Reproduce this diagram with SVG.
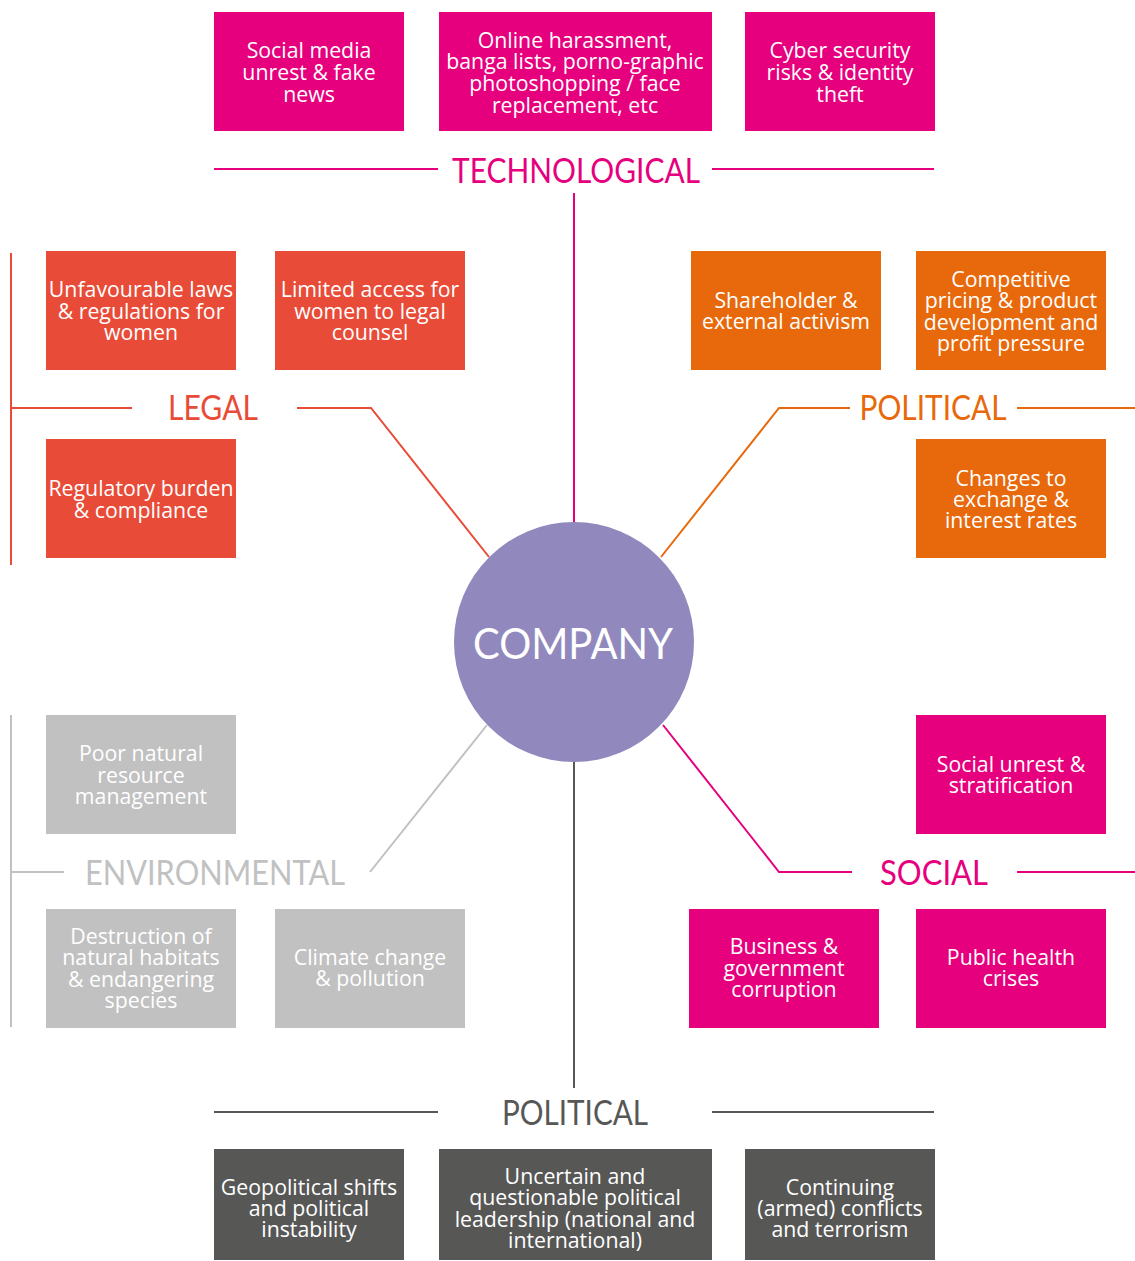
<svg xmlns="http://www.w3.org/2000/svg" width="1135" height="1261" viewBox="0 0 1135 1261">
<style>
.b{font-family:"Open Sans","Noto Sans",sans-serif;font-size:21.3px;fill:#fff;text-anchor:middle}
.h{font-family:Lato,"Liberation Sans",sans-serif;font-weight:400;font-size:35px;text-anchor:middle}
.pk{fill:#E6007E}.rd{fill:#E84B37}.or{fill:#E8690B}.gy{fill:#C1C1C1}.dk{fill:#575756}
.l{fill:none;stroke-width:2}
</style>
<rect width="1135" height="1261" fill="#fff"/>
<g id="connectors">
<path class="l" stroke="#E6007E" d="M214 169H438M712 169H934M574 193V522"/>
<path class="l" stroke="#E84B37" d="M11 253V565M11 408H132M297 408H371L489 557"/>
<path class="l" stroke="#E8690B" d="M1017 408H1135M850 408H779L661 557"/>
<path class="l" stroke="#C1C1C1" d="M11 715V1027M11 872H64M370 872L487 725"/>
<path class="l" stroke="#E6007E" d="M663 725L779 872H852M1017 872H1135"/>
<path class="l" stroke="#575756" d="M574 762V1088M214 1112H438M712 1112H934"/>
</g>
<g id="company"><circle cx="574" cy="642" r="120" fill="#9189BE"/><text class="h" x="573" y="659" style="font-size:43px;fill:#fff" textLength="200" lengthAdjust="spacingAndGlyphs">COMPANY</text></g>
<g id="tech-label"><text class="h pk" x="576" y="183" textLength="248" lengthAdjust="spacingAndGlyphs">TECHNOLOGICAL</text></g>
<g id="legal-label"><text class="h rd" x="213" y="420" textLength="90" lengthAdjust="spacingAndGlyphs">LEGAL</text></g>
<g id="political-label"><text class="h or" x="933" y="420" textLength="147" lengthAdjust="spacingAndGlyphs">POLITICAL</text></g>
<g id="env-label"><text class="h gy" x="215" y="885" textLength="260" lengthAdjust="spacingAndGlyphs">ENVIRONMENTAL</text></g>
<g id="social-label"><text class="h pk" x="934" y="885" textLength="108" lengthAdjust="spacingAndGlyphs">SOCIAL</text></g>
<g id="political2-label"><text class="h dk" x="575" y="1125" textLength="146" lengthAdjust="spacingAndGlyphs">POLITICAL</text></g>

<g id="t1"><rect class="pk" x="214" y="12" width="190" height="119"/><text class="b"><tspan x="309" y="58">Social media</tspan><tspan x="309" y="80">unrest &amp; fake</tspan><tspan x="309" y="102">news</tspan></text></g>
<g id="t2"><rect class="pk" x="439" y="12" width="273" height="119"/><text class="b"><tspan x="575" y="48">Online harassment,</tspan><tspan x="575" y="69">banga lists, porno-graphic</tspan><tspan x="575" y="91">photoshopping / face</tspan><tspan x="575" y="113">replacement, etc</tspan></text></g>
<g id="t3"><rect class="pk" x="745" y="12" width="190" height="119"/><text class="b"><tspan x="840" y="58">Cyber security</tspan><tspan x="840" y="80">risks &amp; identity</tspan><tspan x="840" y="102">theft</tspan></text></g>

<g id="l1"><rect class="rd" x="46" y="251" width="190" height="119"/><text class="b"><tspan x="141" y="297">Unfavourable laws</tspan><tspan x="141" y="319">&amp; regulations for</tspan><tspan x="141" y="340">women</tspan></text></g>
<g id="l2"><rect class="rd" x="275" y="251" width="190" height="119"/><text class="b"><tspan x="370" y="297">Limited access for</tspan><tspan x="370" y="319">women to legal</tspan><tspan x="370" y="340">counsel</tspan></text></g>
<g id="l3"><rect class="rd" x="46" y="439" width="190" height="119"/><text class="b"><tspan x="141" y="496">Regulatory burden</tspan><tspan x="141" y="518">&amp; compliance</tspan></text></g>

<g id="p1"><rect class="or" x="691" y="251" width="190" height="119"/><text class="b"><tspan x="786" y="308">Shareholder &amp;</tspan><tspan x="786" y="329">external activism</tspan></text></g>
<g id="p2"><rect class="or" x="916" y="251" width="190" height="119"/><text class="b"><tspan x="1011" y="287">Competitive</tspan><tspan x="1011" y="308">pricing &amp; product</tspan><tspan x="1011" y="330">development and</tspan><tspan x="1011" y="351">profit pressure</tspan></text></g>
<g id="p3"><rect class="or" x="916" y="439" width="190" height="119"/><text class="b"><tspan x="1011" y="486">Changes to</tspan><tspan x="1011" y="507">exchange &amp;</tspan><tspan x="1011" y="528">interest rates</tspan></text></g>

<g id="e1"><rect class="gy" x="46" y="715" width="190" height="119"/><text class="b"><tspan x="141" y="761">Poor natural</tspan><tspan x="141" y="783">resource</tspan><tspan x="141" y="804">management</tspan></text></g>
<g id="e2"><rect class="gy" x="46" y="909" width="190" height="119"/><text class="b"><tspan x="141" y="944">Destruction of</tspan><tspan x="141" y="965">natural habitats</tspan><tspan x="141" y="987">&amp; endangering</tspan><tspan x="141" y="1008">species</tspan></text></g>
<g id="e3"><rect class="gy" x="275" y="909" width="190" height="119"/><text class="b"><tspan x="370" y="965">Climate change</tspan><tspan x="370" y="986">&amp; pollution</tspan></text></g>

<g id="s1"><rect class="pk" x="916" y="715" width="190" height="119"/><text class="b"><tspan x="1011" y="772">Social unrest &amp;</tspan><tspan x="1011" y="793">stratification</tspan></text></g>
<g id="s2"><rect class="pk" x="689" y="909" width="190" height="119"/><text class="b"><tspan x="784" y="954">Business &amp;</tspan><tspan x="784" y="976">government</tspan><tspan x="784" y="997">corruption</tspan></text></g>
<g id="s3"><rect class="pk" x="916" y="909" width="190" height="119"/><text class="b"><tspan x="1011" y="965">Public health</tspan><tspan x="1011" y="986">crises</tspan></text></g>

<g id="g1"><rect class="dk" x="214" y="1149" width="190" height="111"/><text class="b"><tspan x="309" y="1195">Geopolitical shifts</tspan><tspan x="309" y="1216">and political</tspan><tspan x="309" y="1237">instability</tspan></text></g>
<g id="g2"><rect class="dk" x="439" y="1149" width="273" height="111"/><text class="b"><tspan x="575" y="1184">Uncertain and</tspan><tspan x="575" y="1205">questionable political</tspan><tspan x="575" y="1227">leadership (national and</tspan><tspan x="575" y="1248">international)</tspan></text></g>
<g id="g3"><rect class="dk" x="745" y="1149" width="190" height="111"/><text class="b"><tspan x="840" y="1195">Continuing</tspan><tspan x="840" y="1216">(armed) conflicts</tspan><tspan x="840" y="1237">and terrorism</tspan></text></g>
</svg>
